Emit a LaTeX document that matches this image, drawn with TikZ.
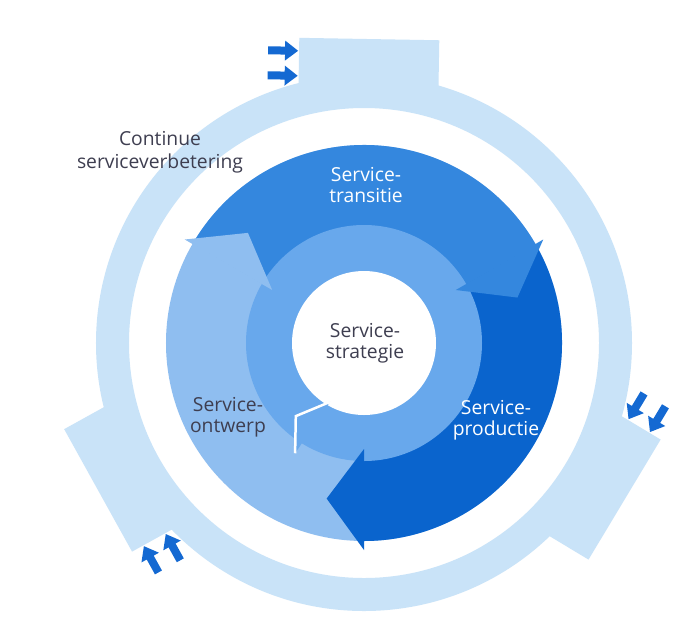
\documentclass[tikz,border=0pt]{standalone}
\usepackage{fontspec}
\setmainfont{Open Sans}
\definecolor{palec}{RGB}{201,227,248}
\definecolor{desc}{RGB}{143,190,240}
\definecolor{stratc}{RGB}{104,168,236}
\definecolor{transc}{RGB}{52,135,222}
\definecolor{prodc}{RGB}{10,100,205}
\definecolor{arrowc}{RGB}{20,105,210}
\definecolor{textc}{RGB}{62,62,80}
\tikzset{
  lbl/.style={align=center, inner sep=0pt, font=\fontsize{19.3}{20.5}\selectfont},
  darklbl/.style={lbl, text=textc},
  whitelbl/.style={lbl, text=white},
}
\begin{document}
\begin{tikzpicture}[x=1pt,y=1pt]
\useasboundingbox (-364,-287) rectangle (328,343);
\fill[white] (-364,-287) rectangle (328,343);
% outer pale ring with three tabs
\fill[palec, even odd rule] (0,0) circle[radius=268pt] (0,0) circle[radius=235pt];
\foreach \a in {-1,119,239}{
  \begin{scope}[rotate=\a]
    \fill[palec] (-70,240) rectangle (70,304);
    \foreach \yy in {291,266}{
      \fill[arrowc] (-101,\yy-4) -- (-84,\yy-4) -- (-84,\yy-10) -- (-71,\yy) -- (-84,\yy+10) -- (-84,\yy+4) -- (-101,\yy+4) -- cycle;
    }
  \end{scope}
}
% main disk: design background, transition and production bodies
\fill[desc] (0,0) circle[radius=198pt];
\fill[transc] (149.7:198pt) arc[start angle=149.7,end angle=29,radius=198pt] -- (29:100pt) arc[start angle=29,end angle=149.7,radius=100pt] -- cycle;
\fill[prodc] (29.7:198pt) arc[start angle=29.7,end angle=-91,radius=198pt] -- (-91:100pt) arc[start angle=-91,end angle=29.7,radius=100pt] -- cycle;
% strategy ring and white centre
\fill[stratc] (0,0) circle[radius=118pt];
\fill[white] (0,0) circle[radius=72pt];
% arrow heads of the main segments
\fill[transc] (30:207pt) -- (16.5:160pt) -- (30:106pt) -- cycle;
\fill[prodc] (-90:207pt) -- (-103.5:160pt) -- (-90:106pt) -- cycle;
\fill[desc] (150:207pt) -- (136.5:160pt) -- (150:106pt) -- cycle;
% strategy ring head with white separating line
\fill[stratc] (240:68pt) -- (227:100pt) -- (238:130pt) -- cycle;
\draw[white, line width=2.5pt, line join=miter] (240:68pt) -- (227:100pt) -- (238:130pt);
% labels
\node[darklbl, font=\fontsize{19.3}{23}\selectfont] (csi) at (-204,191) {Continue\\serviceverbetering};
\node[whitelbl] (st) at (2,158) {Service-\\transitie};
\node[darklbl] (ss) at (1,0) {Service-\\strategie};
\node[whitelbl] (sp) at (132,-77) {Service-\\productie};
\node[darklbl] (so) at (-136,-74) {Service-\\ontwerp};
\end{tikzpicture}
\end{document}
